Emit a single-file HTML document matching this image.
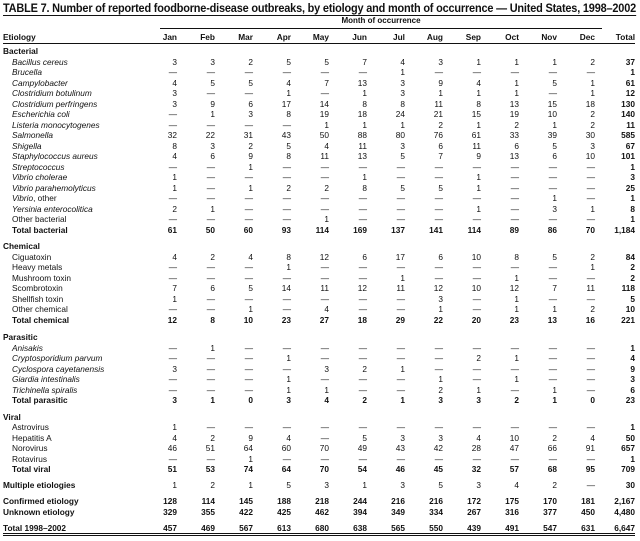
<!DOCTYPE html>
<html><head><meta charset="utf-8">
<style>
html,body{margin:0;padding:0;background:#fff;}
body{width:640px;height:541px;position:relative;overflow:hidden;font-family:"Liberation Sans",Arial,sans-serif;color:#111;}
#title{position:absolute;left:3px;top:2px;font-size:12px;font-weight:bold;white-space:nowrap;transform-origin:0 0;line-height:12px;border-bottom:1px solid #111;padding-bottom:1px;letter-spacing:-0.2px;}
#moc{position:absolute;left:160px;width:442px;top:16px;height:12px;border-bottom:1px solid #111;font-size:8px;text-align:center;line-height:10px;font-weight:bold;}
table{position:absolute;left:3px;top:31px;border-collapse:collapse;table-layout:fixed;font-size:8.3px;}
td{padding:0;text-align:right;white-space:nowrap;line-height:10px;height:10.5px;vertical-align:middle;}
td:first-child{text-align:left;}
td:last-child{font-weight:bold;}
tr.h td{height:12px;font-weight:bold;border-bottom:1px solid #111;}
tr.c td{font-weight:bold;}
tr.t td{font-weight:bold;}
tr.t td:first-child{padding-left:9px;}
tr.i td:first-child{padding-left:9px;font-style:italic;}
tr.n td:first-child{padding-left:9px;}
tr.f td{font-weight:bold;border-bottom:3px double #111;}
tr.s td{height:5.5px;line-height:0;font-size:0;}
</style></head><body>
<div id="title">TABLE 7. Number of reported foodborne-disease outbreaks, by etiology and month of occurrence — United States, 1998–2002</div>
<div id="moc">Month of occurrence</div>
<table>
<colgroup><col style="width:136px"><col style="width:38px"><col style="width:38px"><col style="width:38px"><col style="width:38px"><col style="width:38px"><col style="width:38px"><col style="width:38px"><col style="width:38px"><col style="width:38px"><col style="width:38px"><col style="width:38px"><col style="width:38px"><col style="width:40px"></colgroup>
<tr class="h"><td>Etiology</td><td>Jan</td><td>Feb</td><td>Mar</td><td>Apr</td><td>May</td><td>Jun</td><td>Jul</td><td>Aug</td><td>Sep</td><td>Oct</td><td>Nov</td><td>Dec</td><td>Total</td></tr>
<tr class="s" style="height:2px"><td colspan="14" style="height:2px"></td></tr>
<tr class="c"><td>Bacterial</td><td colspan="13"></td></tr>
<tr class="i"><td>Bacillus cereus</td><td>3</td><td>3</td><td>2</td><td>5</td><td>5</td><td>7</td><td>4</td><td>3</td><td>1</td><td>1</td><td>1</td><td>2</td><td>37</td></tr>
<tr class="i"><td>Brucella</td><td>—</td><td>—</td><td>—</td><td>—</td><td>—</td><td>—</td><td>1</td><td>—</td><td>—</td><td>—</td><td>—</td><td>—</td><td>1</td></tr>
<tr class="i"><td>Campylobacter</td><td>4</td><td>5</td><td>5</td><td>4</td><td>7</td><td>13</td><td>3</td><td>9</td><td>4</td><td>1</td><td>5</td><td>1</td><td>61</td></tr>
<tr class="i"><td>Clostridium botulinum</td><td>3</td><td>—</td><td>—</td><td>1</td><td>—</td><td>1</td><td>3</td><td>1</td><td>1</td><td>1</td><td>—</td><td>1</td><td>12</td></tr>
<tr class="i"><td>Clostridium perfringens</td><td>3</td><td>9</td><td>6</td><td>17</td><td>14</td><td>8</td><td>8</td><td>11</td><td>8</td><td>13</td><td>15</td><td>18</td><td>130</td></tr>
<tr class="i"><td>Escherichia coli</td><td>—</td><td>1</td><td>3</td><td>8</td><td>19</td><td>18</td><td>24</td><td>21</td><td>15</td><td>19</td><td>10</td><td>2</td><td>140</td></tr>
<tr class="i"><td>Listeria monocytogenes</td><td>—</td><td>—</td><td>—</td><td>—</td><td>1</td><td>1</td><td>1</td><td>2</td><td>1</td><td>2</td><td>1</td><td>2</td><td>11</td></tr>
<tr class="i"><td>Salmonella</td><td>32</td><td>22</td><td>31</td><td>43</td><td>50</td><td>88</td><td>80</td><td>76</td><td>61</td><td>33</td><td>39</td><td>30</td><td>585</td></tr>
<tr class="i"><td>Shigella</td><td>8</td><td>3</td><td>2</td><td>5</td><td>4</td><td>11</td><td>3</td><td>6</td><td>11</td><td>6</td><td>5</td><td>3</td><td>67</td></tr>
<tr class="i"><td>Staphylococcus aureus</td><td>4</td><td>6</td><td>9</td><td>8</td><td>11</td><td>13</td><td>5</td><td>7</td><td>9</td><td>13</td><td>6</td><td>10</td><td>101</td></tr>
<tr class="i"><td>Streptococcus</td><td>—</td><td>—</td><td>1</td><td>—</td><td>—</td><td>—</td><td>—</td><td>—</td><td>—</td><td>—</td><td>—</td><td>—</td><td>1</td></tr>
<tr class="i"><td>Vibrio cholerae</td><td>1</td><td>—</td><td>—</td><td>—</td><td>—</td><td>1</td><td>—</td><td>—</td><td>1</td><td>—</td><td>—</td><td>—</td><td>3</td></tr>
<tr class="i"><td>Vibrio parahemolyticus</td><td>1</td><td>—</td><td>1</td><td>2</td><td>2</td><td>8</td><td>5</td><td>5</td><td>1</td><td>—</td><td>—</td><td>—</td><td>25</td></tr>
<tr class="n"><td><i>Vibrio</i>, other</td><td>—</td><td>—</td><td>—</td><td>—</td><td>—</td><td>—</td><td>—</td><td>—</td><td>—</td><td>—</td><td>1</td><td>—</td><td>1</td></tr>
<tr class="i"><td>Yersinia enterocolitica</td><td>2</td><td>1</td><td>—</td><td>—</td><td>—</td><td>—</td><td>—</td><td>—</td><td>1</td><td>—</td><td>3</td><td>1</td><td>8</td></tr>
<tr class="n"><td>Other bacterial</td><td>—</td><td>—</td><td>—</td><td>—</td><td>1</td><td>—</td><td>—</td><td>—</td><td>—</td><td>—</td><td>—</td><td>—</td><td>1</td></tr>
<tr class="t"><td>Total bacterial</td><td>61</td><td>50</td><td>60</td><td>93</td><td>114</td><td>169</td><td>137</td><td>141</td><td>114</td><td>89</td><td>86</td><td>70</td><td>1,184</td></tr>
<tr class="s"><td colspan="14" style="height:6px"></td></tr>
<tr class="c"><td>Chemical</td><td colspan="13"></td></tr>
<tr class="n"><td>Ciguatoxin</td><td>4</td><td>2</td><td>4</td><td>8</td><td>12</td><td>6</td><td>17</td><td>6</td><td>10</td><td>8</td><td>5</td><td>2</td><td>84</td></tr>
<tr class="n"><td>Heavy metals</td><td>—</td><td>—</td><td>—</td><td>1</td><td>—</td><td>—</td><td>—</td><td>—</td><td>—</td><td>—</td><td>—</td><td>1</td><td>2</td></tr>
<tr class="n"><td>Mushroom toxin</td><td>—</td><td>—</td><td>—</td><td>—</td><td>—</td><td>—</td><td>1</td><td>—</td><td>—</td><td>1</td><td>—</td><td>—</td><td>2</td></tr>
<tr class="n"><td>Scombrotoxin</td><td>7</td><td>6</td><td>5</td><td>14</td><td>11</td><td>12</td><td>11</td><td>12</td><td>10</td><td>12</td><td>7</td><td>11</td><td>118</td></tr>
<tr class="n"><td>Shellfish toxin</td><td>1</td><td>—</td><td>—</td><td>—</td><td>—</td><td>—</td><td>—</td><td>3</td><td>—</td><td>1</td><td>—</td><td>—</td><td>5</td></tr>
<tr class="n"><td>Other chemical</td><td>—</td><td>—</td><td>1</td><td>—</td><td>4</td><td>—</td><td>—</td><td>1</td><td>—</td><td>1</td><td>1</td><td>2</td><td>10</td></tr>
<tr class="t"><td>Total chemical</td><td>12</td><td>8</td><td>10</td><td>23</td><td>27</td><td>18</td><td>29</td><td>22</td><td>20</td><td>23</td><td>13</td><td>16</td><td>221</td></tr>
<tr class="s"><td colspan="14" style="height:7px"></td></tr>
<tr class="c"><td>Parasitic</td><td colspan="13"></td></tr>
<tr class="i"><td>Anisakis</td><td>—</td><td>1</td><td>—</td><td>—</td><td>—</td><td>—</td><td>—</td><td>—</td><td>—</td><td>—</td><td>—</td><td>—</td><td>1</td></tr>
<tr class="i"><td>Cryptosporidium parvum</td><td>—</td><td>—</td><td>—</td><td>1</td><td>—</td><td>—</td><td>—</td><td>—</td><td>2</td><td>1</td><td>—</td><td>—</td><td>4</td></tr>
<tr class="i"><td>Cyclospora cayetanensis</td><td>3</td><td>—</td><td>—</td><td>—</td><td>3</td><td>2</td><td>1</td><td>—</td><td>—</td><td>—</td><td>—</td><td>—</td><td>9</td></tr>
<tr class="i"><td>Giardia intestinalis</td><td>—</td><td>—</td><td>—</td><td>1</td><td>—</td><td>—</td><td>—</td><td>1</td><td>—</td><td>1</td><td>—</td><td>—</td><td>3</td></tr>
<tr class="i"><td>Trichinella spiralis</td><td>—</td><td>—</td><td>—</td><td>1</td><td>1</td><td>—</td><td>—</td><td>2</td><td>1</td><td>—</td><td>1</td><td>—</td><td>6</td></tr>
<tr class="t"><td>Total parasitic</td><td>3</td><td>1</td><td>0</td><td>3</td><td>4</td><td>2</td><td>1</td><td>3</td><td>3</td><td>2</td><td>1</td><td>0</td><td>23</td></tr>
<tr class="s"><td colspan="14" style="height:6px"></td></tr>
<tr class="c"><td>Viral</td><td colspan="13"></td></tr>
<tr class="n"><td>Astrovirus</td><td>1</td><td>—</td><td>—</td><td>—</td><td>—</td><td>—</td><td>—</td><td>—</td><td>—</td><td>—</td><td>—</td><td>—</td><td>1</td></tr>
<tr class="n"><td>Hepatitis A</td><td>4</td><td>2</td><td>9</td><td>4</td><td>—</td><td>5</td><td>3</td><td>3</td><td>4</td><td>10</td><td>2</td><td>4</td><td>50</td></tr>
<tr class="n"><td>Norovirus</td><td>46</td><td>51</td><td>64</td><td>60</td><td>70</td><td>49</td><td>43</td><td>42</td><td>28</td><td>47</td><td>66</td><td>91</td><td>657</td></tr>
<tr class="n"><td>Rotavirus</td><td>—</td><td>—</td><td>1</td><td>—</td><td>—</td><td>—</td><td>—</td><td>—</td><td>—</td><td>—</td><td>—</td><td>—</td><td>1</td></tr>
<tr class="t"><td>Total viral</td><td>51</td><td>53</td><td>74</td><td>64</td><td>70</td><td>54</td><td>46</td><td>45</td><td>32</td><td>57</td><td>68</td><td>95</td><td>709</td></tr>
<tr class="s"><td colspan="14" style="height:5.5px"></td></tr>
<tr class="c"><td>Multiple etiologies</td><td style="font-weight:normal">1</td><td style="font-weight:normal">2</td><td style="font-weight:normal">1</td><td style="font-weight:normal">5</td><td style="font-weight:normal">3</td><td style="font-weight:normal">1</td><td style="font-weight:normal">3</td><td style="font-weight:normal">5</td><td style="font-weight:normal">3</td><td style="font-weight:normal">4</td><td style="font-weight:normal">2</td><td style="font-weight:normal">—</td><td>30</td></tr>
<tr class="s"><td colspan="14" style="height:5.5px"></td></tr>
<tr class="c"><td>Confirmed etiology</td><td>128</td><td>114</td><td>145</td><td>188</td><td>218</td><td>244</td><td>216</td><td>216</td><td>172</td><td>175</td><td>170</td><td>181</td><td>2,167</td></tr>
<tr class="c"><td>Unknown etiology</td><td>329</td><td>355</td><td>422</td><td>425</td><td>462</td><td>394</td><td>349</td><td>334</td><td>267</td><td>316</td><td>377</td><td>450</td><td>4,480</td></tr>
<tr class="s"><td colspan="14" style="height:5.5px"></td></tr>
<tr class="f"><td>Total 1998–2002</td><td>457</td><td>469</td><td>567</td><td>613</td><td>680</td><td>638</td><td>565</td><td>550</td><td>439</td><td>491</td><td>547</td><td>631</td><td>6,647</td></tr>
</table>
<script>
(function(){var t=document.getElementById('title');var w=t.getBoundingClientRect().width;if(w>0){t.style.transform='scaleX('+(633/w)+')';}})();
</script>
</body></html>
